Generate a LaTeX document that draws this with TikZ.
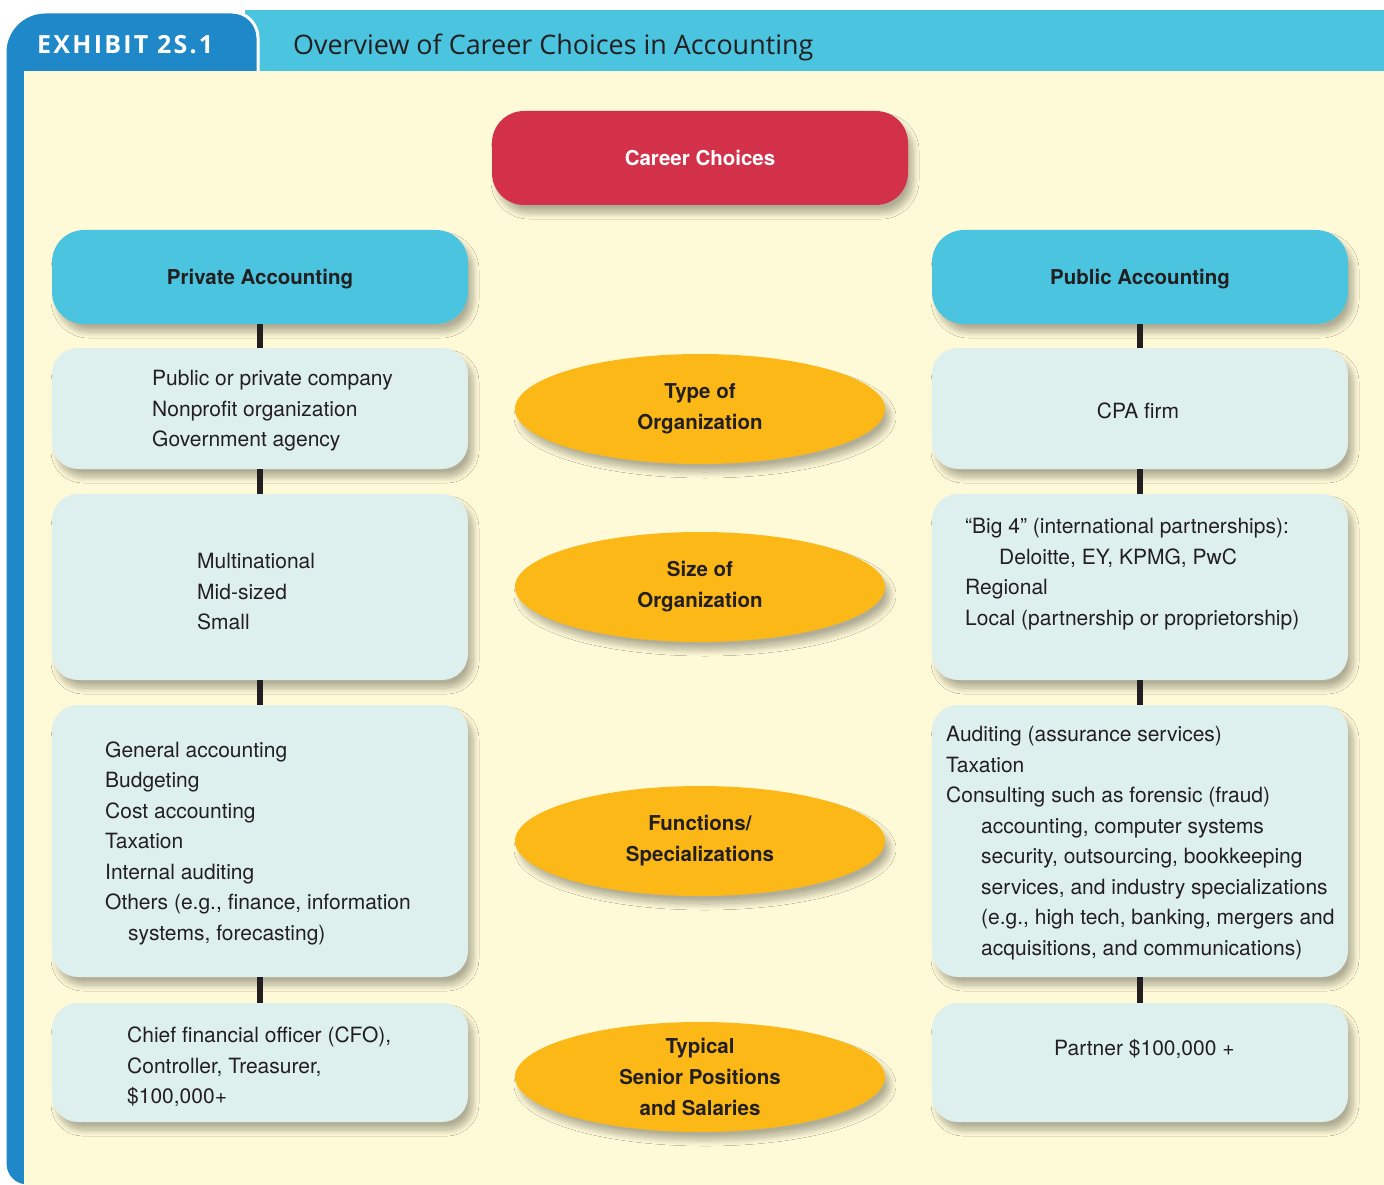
\documentclass[tikz,border=0pt]{standalone}
\usepackage{fontspec}
\setmainfont{TeX Gyre Heros}
\newfontfamily\titlefont{Open Sans}
\newfontfamily\exhibitfont[LetterSpace=9]{Open Sans}
\usetikzlibrary{shapes.geometric,shadows.blur}

\definecolor{exblue}{HTML}{1E88C8}
\definecolor{barcyan}{HTML}{4BC4E0}
\definecolor{cream}{HTML}{FEF9D7}
\definecolor{paleteal}{HTML}{DDF0EE}
\definecolor{careerred}{HTML}{D3314A}
\definecolor{amber}{HTML}{FBB817}
\definecolor{ink}{HTML}{231F20}

\tikzset{
  softshadow/.style={blur shadow={shadow xshift=5pt, shadow yshift=-8pt,
      shadow blur radius=6pt, shadow blur steps=10, shadow opacity=30}},
  headbox/.style={rectangle, rounded corners=32pt, fill=barcyan, softshadow,
      minimum width=416pt, minimum height=94pt, inner sep=0pt, outer sep=0pt,
      text height=14.7pt, text depth=0pt,
      font=\bfseries\fontsize{20.5}{24}\selectfont, text=ink},
  infobox/.style={rectangle, rounded corners=26pt, fill=paleteal, softshadow,
      minimum width=416pt, inner sep=0pt, outer sep=0pt},
  topic/.style={ellipse, fill=amber, softshadow, minimum width=370pt,
      minimum height=110pt, inner sep=0pt, align=center, text=ink,
      font=\bfseries\fontsize{20.5}{31}\selectfont},
  body/.style={inner sep=0pt, align=left, text=ink,
      font=\fontsize{21}{30.5}\selectfont},
  link/.style={draw=ink, line width=6pt}
}

\begin{document}
\begin{tikzpicture}[x=1pt, y=-1pt]
\useasboundingbox (0,0) rectangle (1384,1185);

% header band and exhibit tab
\fill[barcyan] (245,10) rectangle (1384,71);
\draw[fill=exblue, draw=white, line width=3pt]
  (258,80) [rounded corners=26pt] -- (258,12) [rounded corners=40pt] -- (5,12)
  [rounded corners=22pt] -- (5,1186) [sharp corners] -- (30,1186) -- (30,80) -- cycle;
\fill[cream] (24,71) rectangle (1384,1186);

\node[anchor=west, inner sep=0pt, text=white, font=\exhibitfont\bfseries\fontsize{25}{30}\selectfont]
  (exh) at (37,45) {EXHIBIT 2S.1};
\node[anchor=west, inner sep=0pt, text=ink, font=\titlefont\fontsize{26.9}{32}\selectfont]
  (title) at (293,47) {Overview of Career Choices in Accounting};

% top of the chart
\node[headbox, fill=careerred, text=white] (career) at (700,158) {Career Choices};

\node[headbox] (priv) at (260,277) {Private Accounting};
\node[headbox] (pub) at (1140,277) {Public Accounting};

% left column boxes
\node[infobox, minimum height=121pt] (l1) at (260,408.5) {};
\node[infobox, minimum height=186pt] (l2) at (260,587) {};
\node[infobox, minimum height=272pt] (l3) at (260,841) {};
\node[infobox, minimum height=119pt] (l4) at (260,1062.5) {};

% right column boxes
\node[infobox, minimum height=121pt] (r1) at (1140,408.5) {};
\node[infobox, minimum height=186pt] (r2) at (1140,587) {};
\node[infobox, minimum height=272pt] (r3) at (1140,841) {};
\node[infobox, minimum height=119pt] (r4) at (1140,1062.5) {};

% column links
\draw[link] (priv.south) -- (l1.north);
\draw[link] (l1.south) -- (l2.north);
\draw[link] (l2.south) -- (l3.north);
\draw[link] (l3.south) -- (l4.north);
\draw[link] (pub.south) -- (r1.north);
\draw[link] (r1.south) -- (r2.north);
\draw[link] (r2.south) -- (r3.north);
\draw[link] (r3.south) -- (r4.north);

% middle topics
\node[topic] (t1) at (700,409) {Type of\\Organization};
\node[topic] (t2) at (700,587) {Size of\\Organization};
\node[topic] (t3) at (700,841) {Functions/\\Specializations};
\node[topic] (t4) at (700,1077) {Typical\\Senior Positions\\and Salaries};

% left texts
\node[body, anchor=west] (l1t) at (152,411)
  {Public or private company\\Nonprofit organization\\Government agency};
\node[body, anchor=west] (l2t) at (197,592)
  {Multinational\\Mid-sized\\Small};
\node[body, anchor=west] (l3t) at (105,843)
  {General accounting\\Budgeting\\Cost accounting\\Taxation\\Internal auditing\\
   Others (e.g., finance, information\\\hspace*{23pt}systems, forecasting)};
\node[body, anchor=west] (l4t) at (127,1067)
  {Chief financial officer (CFO),\\Controller, Treasurer,\\\$100,000+};

% right texts
\node[body] (r1t) at (1138,411) {CPA firm};
\node[body, anchor=west] (r2t) at (965,574)
  {``Big 4'' (international partnerships):\\\hspace*{34pt}Deloitte, EY, KPMG, PwC\\
   Regional\\Local (partnership or proprietorship)};
\node[body, anchor=west] (r3t) at (946,843)
  {Auditing (assurance services)\\Taxation\\Consulting such as forensic (fraud)\\
   \hspace*{35pt}accounting, computer systems\\\hspace*{35pt}security, outsourcing, bookkeeping\\
   \hspace*{35pt}services, and industry specializations\\\hspace*{35pt}(e.g., high tech, banking, mergers and\\
   \hspace*{35pt}acquisitions, and communications)};
\node[body, anchor=west] (r4t) at (1054,1049) {Partner \$100,000 +};
\end{tikzpicture}
\end{document}
